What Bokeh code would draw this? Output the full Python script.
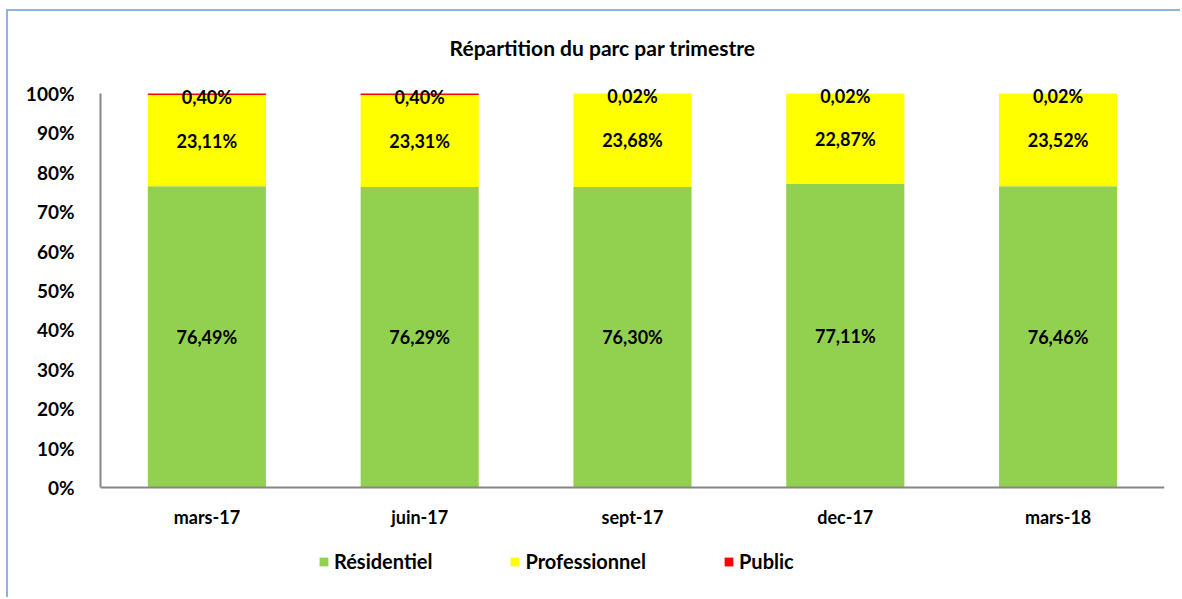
from bokeh.plotting import figure
from bokeh.models import (ColumnDataSource, FactorRange, Range1d, LabelSet, Label,
                          Legend, LegendItem, NumeralTickFormatter, FixedTicker, Span)
from bokeh.core.properties import value
from bokeh.embed import file_html
from bokeh.resources import INLINE

categories = ["mars-17", "juin-17", "sept-17", "dec-17", "mars-18"]
residentiel = [76.49, 76.29, 76.30, 77.11, 76.46]
professionnel = [23.11, 23.31, 23.68, 22.87, 23.52]
public = [0.40, 0.40, 0.02, 0.02, 0.02]
series_names = ["Résidentiel", "Professionnel", "Public"]
colors = ["#92d050", "#ffff00", "#ff0000"]
title_text = "Répartition du parc par trimestre"

FONT = "Lato"

def fmt(v):
    return ("%.2f%%" % v).replace(".", ",")

res_f = [v / 100 for v in residentiel]
pro_f = [v / 100 for v in professionnel]
pub_f = [v / 100 for v in public]

W, H = 1180, 597
PX = 394.0            # pixels per 100 %
ZERO_Y = 487          # canvas y of the 0 % line

src = ColumnDataSource(dict(
    cat=categories,
    res=res_f, pro=pro_f, pub=pub_f,
    res_y=[r / 2 for r in res_f],
    pro_y=[r + p / 2 for r, p in zip(res_f, pro_f)],
    pub_y=[r + p + q / 2 - 0.006 for r, p, q in zip(res_f, pro_f, pub_f)],
    res_t=[fmt(v) for v in residentiel],
    pro_t=[fmt(v) for v in professionnel],
    pub_t=[fmt(v) for v in public],
    cat_y=[-(516 - ZERO_Y) / PX] * len(categories),
))

p = figure(x_range=FactorRange(*categories),
           y_range=Range1d(-(H - ZERO_Y) / PX, ZERO_Y / PX),
           width=W, height=H, output_backend="svg", toolbar_location=None,
           x_axis_location=None,
           min_border_left=100, min_border_right=W - 1164, min_border_top=0, min_border_bottom=0)
p.border_fill_alpha = 0
p.background_fill_alpha = 0
p.styles = {
    "background-image": "linear-gradient(#8db3e2, #8db3e2), linear-gradient(#8db3e2, #8db3e2)",
    "background-size": "2px 600px, 1200px 2px",
    "background-position": "6px 9px, 6px 9px",
    "background-repeat": "no-repeat",
}

renderers = p.vbar_stack(["res", "pro", "pub"], x="cat", width=0.555, source=src,
                         color=colors, line_color=None)

# x axis line at 0 %
p.add_layout(Span(location=0, dimension="width", line_color="#868686", line_width=2))

for ycol, tcol in [("res_y", "res_t"), ("pro_y", "pro_t"), ("pub_y", "pub_t")]:
    p.add_layout(LabelSet(x="cat", y=ycol, text=tcol, source=src, text_align="center",
                          text_baseline="middle", text_font=value(FONT), text_font_style="bold",
                          text_font_size="18px", text_color="black"))

# category labels
p.add_layout(LabelSet(x="cat", y="cat_y", text="cat", source=src, text_align="center",
                      text_baseline="middle", text_font=value(FONT), text_font_style="bold",
                      text_font_size="18px", text_color="black"))

p.add_layout(Label(x=(602 - 100) / 212.8, y=(ZERO_Y - 47) / PX, text=title_text,
                   text_align="center", text_baseline="middle", text_font=FONT,
                   text_font_style="bold", text_font_size="21px", text_color="black"))

p.grid.visible = False
p.outline_line_color = None

p.yaxis.ticker = FixedTicker(ticks=[i / 10 for i in range(11)])
p.yaxis.formatter = NumeralTickFormatter(format="0%")
p.yaxis.bounds = (0, 1)
p.yaxis.axis_line_color = "#868686"
p.yaxis.axis_line_width = 2
p.yaxis.major_tick_line_color = None
p.yaxis.minor_tick_line_color = None
p.yaxis.major_label_text_font = FONT
p.yaxis.major_label_text_font_style = "bold"
p.yaxis.major_label_text_color = "black"
p.yaxis.major_label_text_font_size = "19px"
p.yaxis.major_label_standoff = 20

legend = Legend(items=[LegendItem(label=n, renderers=[r]) for n, r in zip(series_names, renderers)],
                orientation="horizontal", location=(218, 24),
                glyph_width=11, glyph_height=11, spacing=77, label_standoff=5,
                label_text_font=FONT, label_text_font_style="bold", label_text_font_size="20px",
                label_text_color="black",
                border_line_color=None, background_fill_alpha=0, margin=0, padding=0)
p.add_layout(legend, "center")

open("out.html", "w").write(file_html(p, INLINE))
